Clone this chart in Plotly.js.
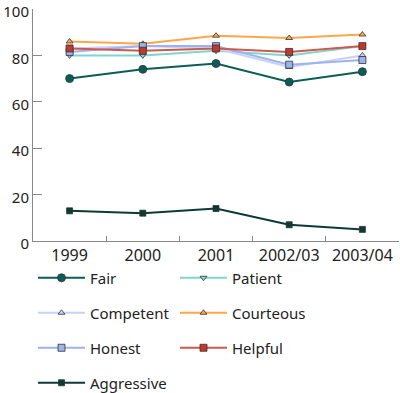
<!DOCTYPE html>
<html>
<head>
<meta charset="utf-8">
<script src="https://cdn.plot.ly/plotly-3.0.1.min.js"></script>
<style>html,body{margin:0;padding:0;background:#fff;}#chart{width:400px;height:393px;}</style>
</head>
<body>
<div id="chart"></div>
<script>
var years = ["1999", "2000", "2001", "2002/03", "2003/04"];
var fair = [70, 74, 76.5, 68.5, 73];
var patient = [80, 80, 82, 80, 84];
var competent = [83, 84, 83, 75, 80];
var courteous = [86, 85, 88.5, 87.5, 89];
var honest = [81.5, 84, 84, 76, 78];
var helpful = [83, 82, 83, 81.5, 84];
var aggressive = [13, 12, 14, 7, 5];
var yTicks = [0, 20, 40, 60, 80, 100];

function tr(name, y, lineColor, sym, mColor, size, legend) {
  return {
    x: years, y: y, name: name, type: 'scatter', mode: 'lines+markers',
    line: {color: lineColor, width: 2},
    marker: {symbol: sym, color: mColor, size: size, line: {color: '#333', width: 0.8}},
    legend: legend, cliponaxis: false
  };
}
var data = [
  tr('Fair', fair, '#0b5e57', 'circle', '#0b5e57', 8, 'legend'),
  tr('Patient', patient, '#7fd6cc', 'triangle-down', '#7fd6cc', 6, 'legend'),
  tr('Competent', competent, '#c9d1f7', 'triangle-up', '#c9d1f7', 6, 'legend2'),
  tr('Courteous', courteous, '#ffa64d', 'triangle-up', '#ffa64d', 6, 'legend2'),
  tr('Honest', honest, '#9db2ee', 'square', '#9db2ee', 7, 'legend3'),
  tr('Helpful', helpful, '#cc5a4e', 'square', '#c1392b', 7, 'legend3'),
  tr('Aggressive', aggressive, '#0c3b36', 'square', '#0c3b36', 6, 'legend4')
];
function leg(yPix) {
  return {orientation: 'h', xref: 'paper', yref: 'container', x: 0, y: 1 - yPix / 393,
    xanchor: 'left', yanchor: 'middle', entrywidth: 80, entrywidthmode: 'pixels',
    itemwidth: 47, font: {size: 15, color: '#222', family: 'Noto Sans'}, bgcolor: 'rgba(0,0,0,0)'};
}
var layout = {
  width: 400, height: 393,
  margin: {l: 33, r: 1, t: 9, b: 152},
  paper_bgcolor: '#fff', plot_bgcolor: '#fff',
  font: {family: 'Noto Sans', size: 16, color: '#222'},
  showlegend: true,
  legend: leg(278), legend2: leg(313), legend3: leg(348), legend4: leg(383),
  xaxis: {type: 'category', range: [-0.5, 4.5], tickson: 'boundaries', ticks: 'inside', ticklen: 5,
    tickcolor: '#888', showline: true, linecolor: '#888', showgrid: false, zeroline: false,
    tickfont: {size: 16, color: '#222'}, fixedrange: true},
  yaxis: {range: [0, 100], tickmode: 'array', tickvals: yTicks, ticktext: yTicks.map(String),
    ticks: 'inside', ticklen: 9, tickcolor: '#888', ticklabeloverflow: 'allow', ticklabelshift: 3,
    showline: true, linecolor: '#888', showgrid: false, zeroline: false,
    tickfont: {size: 15, color: '#222'}, fixedrange: true}
};
Plotly.newPlot('chart', data, layout, {displayModeBar: false, staticPlot: true});
</script>
</body>
</html>
